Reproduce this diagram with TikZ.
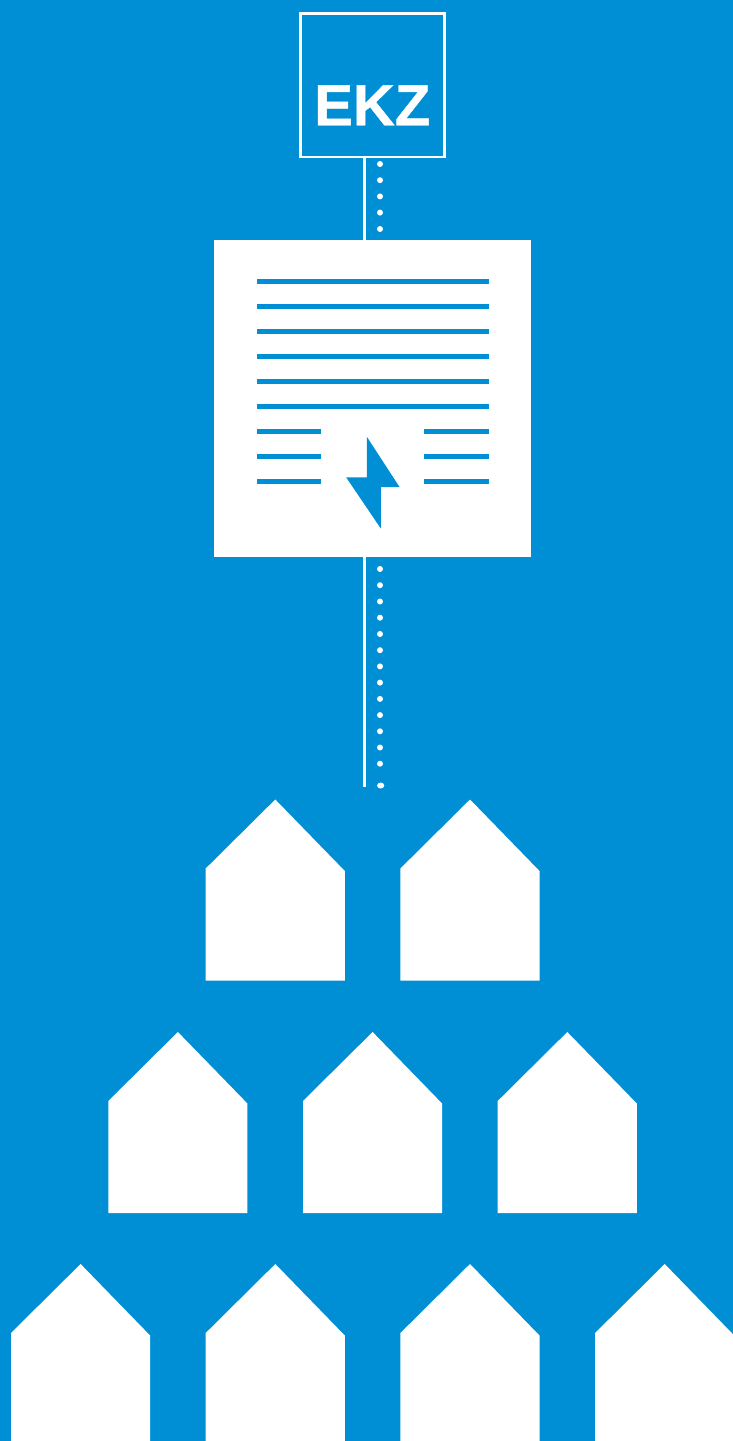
\documentclass[tikz,border=0pt]{standalone}
\usepackage{fontspec}
\setmainfont{Liberation Sans}
\newfontfamily\ekzfont[BoldFeatures={FakeBold=0.8}]{Liberation Sans}
\definecolor{ekzblue}{HTML}{008ED4}
\tikzset{
  x=1pt,y=-1pt,
  ekzbox/.style={draw=white,line width=2.6pt,minimum size=143.8pt,inner sep=0pt,outer sep=0pt},
  docbox/.style={fill=white,draw=none,minimum size=317pt,inner sep=0pt,outer sep=0pt},
  ekzlabel/.style={text=white,font=\ekzfont\bfseries\fontsize{58}{58}\selectfont,inner sep=0pt},
  link/.style={draw=white,line width=3pt},
  textline/.style={draw=ekzblue,line width=5.8pt},
  bolt/.style={fill=ekzblue,draw=none},
  house/.style={fill=white,draw=none},
  dotmark/.style={fill=white,draw=none}
}
\newcommand{\housepic}[2]{%
  \fill[house] (#1,#2) -- ++(69.6,-69) -- ++(69.5,71.5) -- ++(0,109.5) -- ++(-139.1,0) -- cycle;}
\begin{document}
\begin{tikzpicture}
\useasboundingbox (0,0) rectangle (733,1441);
\clip (0,0) rectangle (733,1441);
\fill[ekzblue] (0,0) rectangle (733,1441);
\node[ekzbox] (ekz) at (372.3,85.2) {};
\node[ekzlabel] (ekzlabel) at (372.3,105.3) {EKZ};
\node[docbox] (doc) at (372.5,398.5) {};
\coordinate (topa) at (364.6,0);
\coordinate (end) at (364.6,787);
\draw[link] (ekz.south -| topa) -- (doc.north -| topa);
\draw[link] (doc.south -| topa) -- (end);
\foreach \y in {164,180.2,196.4,212.6,229}
  \fill[dotmark] (380,\y) circle[radius=3pt];
\foreach \y in {569,585.2,601.5,617.7,634,650.2,666.4,682.6,698.9,715.1,731.3,747.5,763.7}
  \fill[dotmark] (380,\y) circle[radius=3pt];
\fill[dotmark] (380.7,785.5) ellipse[x radius=3.6pt,y radius=3pt];
\foreach \y in {281.5,306.5,331.5,356.5,381.5,406.5}
  \draw[textline] (257,\y) -- (489,\y);
\foreach \y in {431.5,456.5,481.5}{
  \draw[textline] (257,\y) -- (321,\y);
  \draw[textline] (424,\y) -- (489,\y);
}
\fill[bolt] (366.8,436.7) -- (399.5,487) -- (380.8,487) -- (380.8,528.5) -- (346.2,477.4) -- (366.8,477.4) -- cycle;
\foreach \x in {205.7,400.4} {\housepic{\x}{868.5}}
\foreach \x in {108.3,303,497.7} {\housepic{\x}{1101}}
\foreach \x in {11,205.7,400.4,595.1} {\housepic{\x}{1333}}
\end{tikzpicture}
\end{document}
